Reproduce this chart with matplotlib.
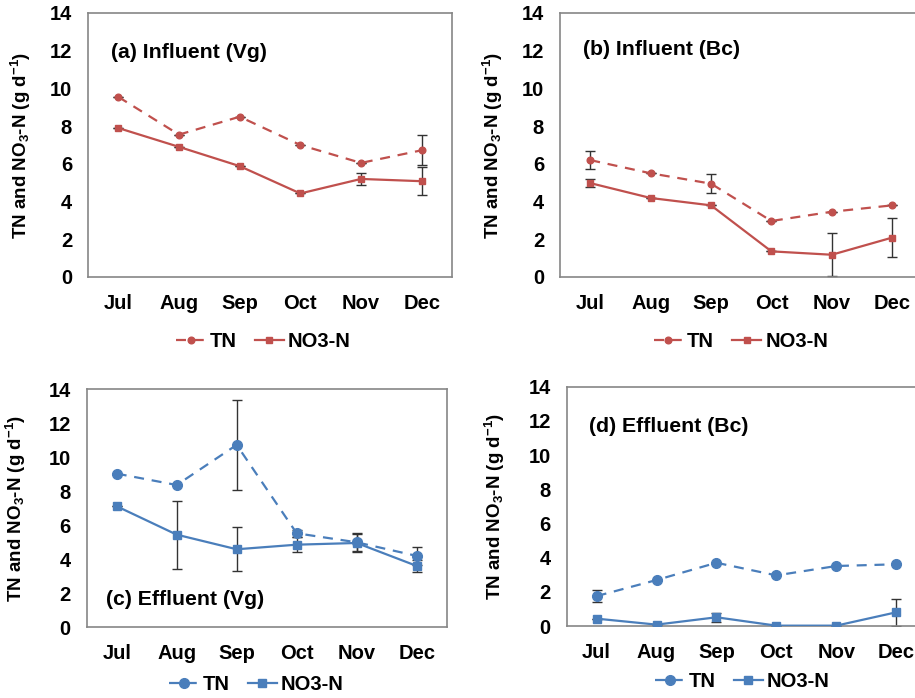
import matplotlib
matplotlib.use("Agg")
import matplotlib.pyplot as plt
import numpy as np

plt.rcParams['font.family'] = ['Liberation Sans', 'DejaVu Sans']
plt.rcParams['font.weight'] = 'bold'
plt.rcParams['mathtext.fontset'] = 'custom'
plt.rcParams['mathtext.rm'] = 'Liberation Sans:bold'
plt.rcParams['mathtext.it'] = 'Liberation Sans:bold'
plt.rcParams['mathtext.bf'] = 'Liberation Sans:bold'
plt.rcParams['mathtext.default'] = 'rm'

months = ["Jul", "Aug", "Sep", "Oct", "Nov", "Dec"]
yticks = [0, 2, 4, 6, 8, 10, 12, 14]

# (a) Influent (Vg)
a_tn = [9.55, 7.55, 8.5, 7.0, 6.05, 6.72]
a_tn_err = [0, 0, 0, 0, 0, 0.8]
a_no3 = [7.9, 6.9, 5.88, 4.43, 5.2, 5.08]
a_no3_err = [0, 0, 0, 0, 0.3, 0.75]

# (b) Influent (Bc)
b_tn = [6.2, 5.5, 4.95, 2.97, 3.46, 3.8]
b_tn_err = [0.47, 0, 0.52, 0, 0, 0]
b_no3 = [4.98, 4.19, 3.8, 1.36, 1.18, 2.09]
b_no3_err = [0.23, 0, 0, 0, 1.15, 1.03]

# (c) Effluent (Vg)
c_tn = [9.04, 8.37, 10.73, 5.53, 5.0, 4.2]
c_tn_err = [0, 0, 2.65, 0.2, 0.55, 0.53]
c_no3 = [7.12, 5.45, 4.59, 4.86, 4.96, 3.61]
c_no3_err = [0, 2.0, 1.3, 0.45, 0.5, 0.34]

# (d) Effluent (Bc)
d_tn = [1.75, 2.69, 3.7, 2.96, 3.51, 3.61]
d_tn_err = [0.35, 0, 0, 0, 0, 0]
d_no3 = [0.43, 0.08, 0.51, 0.02, 0.02, 0.8]
d_no3_err = [0, 0, 0.27, 0, 0, 0.8]

RED = '#C0504D'
BLUE = '#4A7EBB'

W, H = 915, 698
fig = plt.figure(figsize=(W / 100, H / 100), dpi=100)


def px_axes(l, t, r, b):
    return fig.add_axes([l / W, 1 - b / H, (r - l) / W, (b - t) / H])


panels = [
    dict(box=(88, 13, 452, 277), tn=a_tn, tne=a_tn_err, no3=a_no3, no3e=a_no3_err,
         color=RED, ms_c=4.8, ms_s=4.4, title="(a) Influent (Vg)", tpos=(0.063, 0.852),
         leg=(0.482, -0.246), ylab=-0.151),
    dict(box=(560, 13, 922.4, 277), tn=b_tn, tne=b_tn_err, no3=b_no3, no3e=b_no3_err,
         color=RED, ms_c=4.8, ms_s=4.4, title="(b) Influent (Bc)", tpos=(0.063, 0.86),
         leg=(0.4995, -0.246), ylab=-0.152),
    dict(box=(86.7, 389.3, 446.7, 627.3), tn=c_tn, tne=c_tn_err, no3=c_no3, no3e=c_no3_err,
         color=BLUE, ms_c=7, ms_s=5.5, title="(c) Effluent (Vg)", tpos=(0.053, 0.115),
         leg=(0.472, -0.242), ylab=-0.163),
    dict(box=(566.7, 386.7, 926.1, 626), tn=d_tn, tne=d_tn_err, no3=d_no3, no3e=d_no3_err,
         color=BLUE, ms_c=7, ms_s=5.5, title="(d) Effluent (Bc)", tpos=(0.062, 0.835),
         leg=(0.489, -0.234), ylab=-0.166),
]

x = np.arange(len(months))
for p in panels:
    ax = px_axes(*p['box'])
    c = p['color']
    ax.errorbar(x, p['tn'], yerr=p['tne'], fmt='none', ecolor='#333333', elinewidth=1.0,
                capsize=3.5, capthick=1.0, zorder=2)
    ax.errorbar(x, p['no3'], yerr=p['no3e'], fmt='none', ecolor='#333333', elinewidth=1.0,
                capsize=3.5, capthick=1.0, zorder=2)
    ax.plot(x, p['tn'], color=c, lw=1.6, ls=(0, (4.5, 3.5)), marker='o', ms=p['ms_c'],
            label='TN', zorder=3)
    ax.plot(x, p['no3'], color=c, lw=1.6, ls='-', marker='s', ms=p['ms_s'],
            label='NO3-N', zorder=3)
    ax.set_xlim(-0.5, 5.5)
    ax.set_ylim(0, 14)
    ax.set_yticks(yticks)
    ax.set_xticks(x)
    ax.set_xticklabels(months)
    ax.tick_params(axis='both', length=0, labelsize=14.5)
    ax.tick_params(axis='y', pad=11.5)
    ax.tick_params(axis='x', pad=12)
    for s in ax.spines.values():
        s.set_color('#868686')
        s.set_linewidth(1.2)
    ax.set_ylabel('TN and NO$_3$-N (g d$^{-1}$)', fontsize=13.5, fontweight='bold')
    ax.yaxis.set_label_coords(p['ylab'], 0.5)
    ax.text(p['tpos'][0], p['tpos'][1], p['title'], transform=ax.transAxes,
            fontsize=15.3, fontweight='bold', va='center', ha='left')
    ax.legend(loc='center', bbox_to_anchor=p['leg'], ncol=2, frameon=False,
              fontsize=14.5, handlelength=1.45, handletextpad=0.2, columnspacing=0.9)

fig.savefig('out.png', dpi=100)
